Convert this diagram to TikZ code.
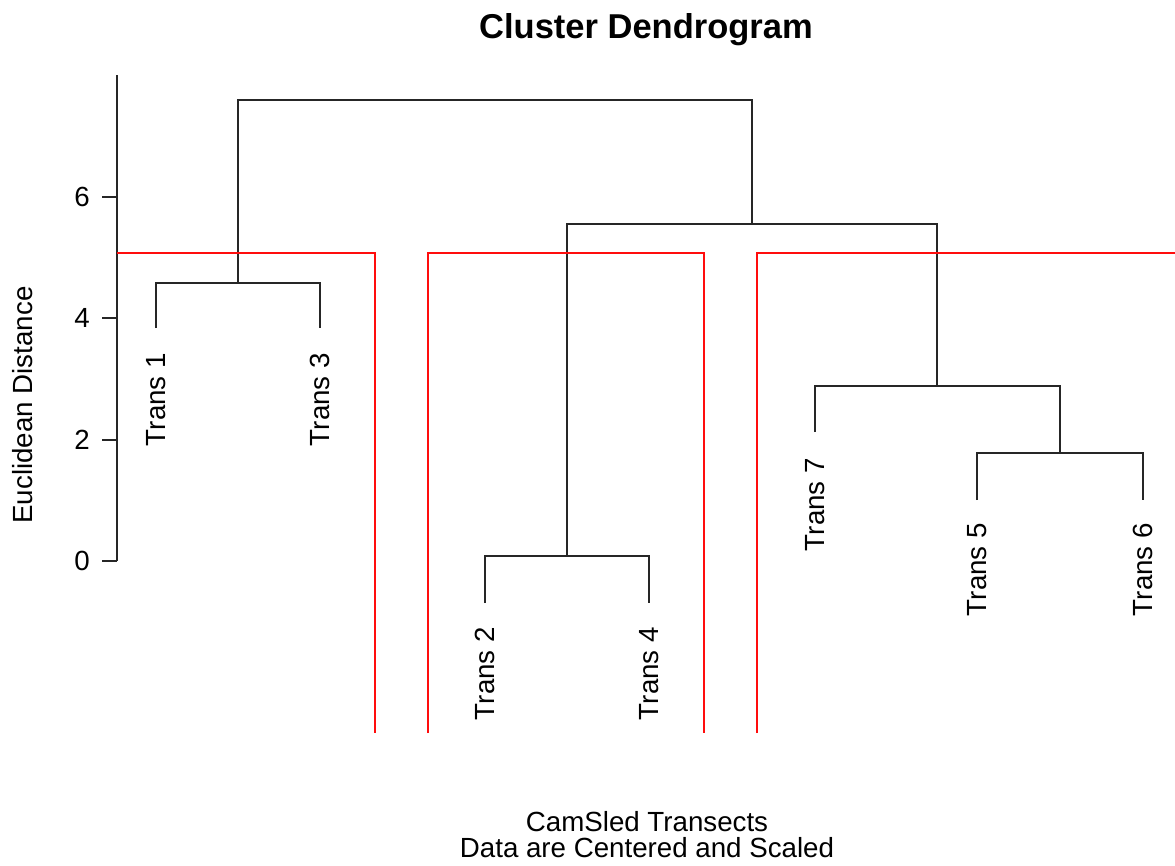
\documentclass[tikz,border=0pt]{standalone}
\usepackage{fontspec}
\setmainfont{Liberation Sans}
\newcommand{\labfont}{\fontsize{27.7}{33}\selectfont}
\newcommand{\titlefont}{\fontsize{34.5}{40}\selectfont\bfseries}
\begin{document}
\begin{tikzpicture}[x=1pt,y=-1pt,
  branch/.style={draw=black!85, line width=1.8pt},
  cutbox/.style={draw=red!95, line width=1.8pt},
  axisline/.style={draw=black!85, line width=1.8pt},
  leaflabel/.style={rotate=90, anchor=east, inner sep=0pt, font=\labfont},
  ticklabel/.style={anchor=east, inner sep=0pt, font=\labfont},
  plaintext/.style={inner sep=0pt, font=\labfont}]
\useasboundingbox (0,0) rectangle (1175,865);

% title and axis titles
\node[inner sep=0pt, font=\titlefont, anchor=base] (title) at (646,38) {Cluster Dendrogram};
\node[plaintext, anchor=base] (sub1) at (647,831) {CamSled Transects};
\node[plaintext, anchor=base] (sub2) at (647,857) {Data are Centered and Scaled};
\node[plaintext, rotate=90] (ylab) at (23,405) {Euclidean Distance};

% y axis
\coordinate (ax0) at (117,561);
\coordinate (axtop) at (117,75);
\draw[axisline] (axtop) -- (ax0);
\foreach \v/\yy in {0/561,2/440,4/318,6/197}{
  \coordinate (t\v) at (117,\yy);
  \coordinate (tl\v) at (102,\yy);
  \draw[axisline] (t\v) -- (tl\v);
  \node[ticklabel] (tick\v) at (90,\yy) {\v};
}

% leaf ends
\coordinate (L1) at (156,328);
\coordinate (L3) at (320,328);
\coordinate (L2) at (485,603);
\coordinate (L4) at (649,603);
\coordinate (L7) at (815,432);
\coordinate (L5) at (977,500);
\coordinate (L6) at (1143,500);

% merge corners
\coordinate (A1) at (156,283);
\coordinate (A3) at (320,283);
\coordinate (Am) at (238,283);
\coordinate (B2) at (485,556);
\coordinate (B4) at (649,556);
\coordinate (Bm) at (567,556);
\coordinate (C5) at (977,453);
\coordinate (C6) at (1143,453);
\coordinate (Cm) at (1060,453);
\coordinate (D7) at (815,386);
\coordinate (DC) at (1060,386);
\coordinate (Dm) at (937,386);
\coordinate (EB) at (567,224);
\coordinate (ED) at (937,224);
\coordinate (Em) at (752,224);
\coordinate (FA) at (238,100);
\coordinate (FE) at (752,100);

\draw[branch] (L1) -- (A1) -- (A3) -- (L3);
\draw[branch] (L2) -- (B2) -- (B4) -- (L4);
\draw[branch] (L5) -- (C5) -- (C6) -- (L6);
\draw[branch] (L7) -- (D7) -- (DC) -- (Cm);
\draw[branch] (Bm) -- (EB) -- (ED) -- (Dm);
\draw[branch] (Am) -- (FA) -- (FE) -- (Em);

% leaf labels
\node[leaflabel] (n1) at (156,353) {Trans 1};
\node[leaflabel] (n3) at (320,353) {Trans 3};
\node[leaflabel] (n2) at (485,627) {Trans 2};
\node[leaflabel] (n4) at (649,627) {Trans 4};
\node[leaflabel] (n7) at (815,458) {Trans 7};
\node[leaflabel] (n5) at (977,523) {Trans 5};
\node[leaflabel] (n6) at (1143,523) {Trans 6};

% cut rectangles
\coordinate (R1a) at (117,253);
\coordinate (R1b) at (375,253);
\coordinate (R1c) at (375,733);
\coordinate (R2a) at (428,733);
\coordinate (R2b) at (428,253);
\coordinate (R2c) at (704,253);
\coordinate (R2d) at (704,733);
\coordinate (R3a) at (757,733);
\coordinate (R3b) at (757,253);
\coordinate (R3c) at (1175,253);
\draw[cutbox] (R1a) -- (R1b) -- (R1c);
\draw[cutbox] (R2a) -- (R2b) -- (R2c) -- (R2d);
\draw[cutbox] (R3a) -- (R3b) -- (R3c);
\end{tikzpicture}
\end{document}
